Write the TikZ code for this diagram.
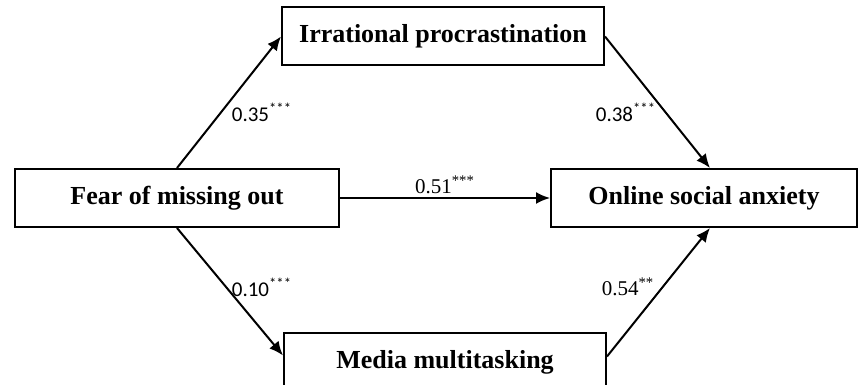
\documentclass[tikz,border=0pt]{standalone}
\usepackage{fontspec}
\setmainfont{Liberation Serif}
\newfontfamily\calibrifont{Carlito}
\usepackage{tikz}
\usetikzlibrary{arrows.meta,positioning}

\begin{document}
\begin{tikzpicture}[x=0.5pt,y=-0.5pt,>={Latex[length=7pt,width=6pt]},
  varbox/.style={draw,line width=1pt,fill=white,minimum height=29pt,inner sep=0pt,font=\fontsize{13}{15}\selectfont\bfseries},
  coefsf/.style={font=\calibrifont\fontsize{10.5}{12}\selectfont,inner sep=0pt},
  coefrm/.style={font=\fontsize{10.5}{12}\selectfont,inner sep=0pt}]
\useasboundingbox (0,0) rectangle (859,385);
\node[varbox,minimum width=162pt] (fomo) at (177,198) {Fear of missing out};
\node[varbox,minimum width=161pt] (irr) at (443,36.5) {Irrational procrastination};
\node[varbox,minimum width=153pt] (osa) at (704,198) {Online social anxiety};
\node[varbox,minimum width=161pt] (media) at (445,362.5) {Media multitasking};
\draw[->,line width=1pt] (fomo.north)--(irr.west);
\draw[->,line width=1pt] (irr.east)--([xshift=3pt]osa.north);
\draw[->,line width=1pt] (fomo.east)--(osa.west);
\draw[->,line width=1pt] (fomo.south)--([yshift=3.5pt]media.west);
\draw[->,line width=1pt] ([yshift=3pt]media.east)--([xshift=3pt]osa.south);
\node[coefsf] (b1) at (262,112) {0.35\textsuperscript{***}};
\node[coefsf] (b2) at (626,112) {0.38\textsuperscript{***}};
\node[coefrm] (b3) at (445,185) {0.51\textsuperscript{***}};
\node[coefsf] (b4) at (262,287) {0.10\textsuperscript{***}};
\node[coefrm] (b5) at (628,287) {0.54\textsuperscript{**}};
\end{tikzpicture}
\end{document}
